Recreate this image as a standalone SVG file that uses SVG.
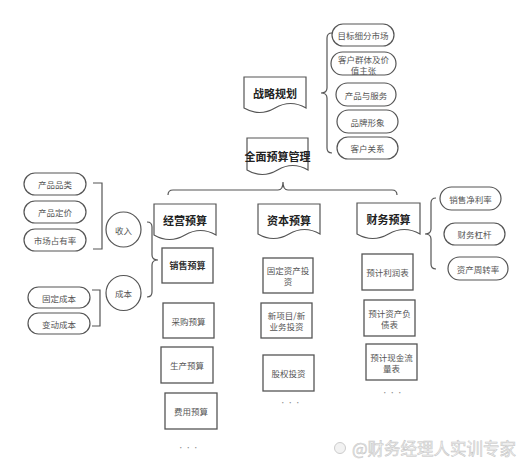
<svg xmlns="http://www.w3.org/2000/svg" width="526" height="469" viewBox="0 0 526 469">
<style>
.pill{fill:#fff;stroke:#555;stroke-width:1.2}
.box{fill:#fff;stroke:#555;stroke-width:1.3}
.doc{fill:#fff;stroke:#555;stroke-width:1.2}
.con{fill:none;stroke:#555;stroke-width:1.2}
text{font-family:"Noto Sans CJK SC","Liberation Sans",sans-serif;text-anchor:middle;dominant-baseline:central}
.t{font-size:8.5px;fill:#555}
.b{font-size:11px;font-weight:bold;fill:#222}
.sb{font-size:9px;font-weight:bold;fill:#333}
.dots{font-size:6px;fill:#888;letter-spacing:1.5px}
</style>
<rect width="526" height="469" fill="#fff"/>
<g id="connectors">
<path class="con" d="M332,33 Q327,33 327,38 V88 Q327,93 321,93 Q327,93 327,98 V148 Q327,153 332,153"/>
<path class="con" d="M168,195 Q168,190 173,190 H278 Q283,190 283,182 Q283,190 288,190 H392 Q397,190 397,195"/>
<path class="con" d="M93,183 H102 V249 H93"/>
<path class="con" d="M92,290 H100 V326 H92"/>
<path class="con" d="M147,222 Q152,222 152,227 V255 Q152,260 158,260 Q152,260 152,265 V292 Q152,297 147,297"/>
<path class="con" d="M436,198 Q431,198 431,203 V229 Q431,234 425,234 Q431,234 431,239 V264 Q431,269 436,269"/>
</g>
<g id="zhanlue"><path class="doc" d="M244,77 H306 V108 Q290.5,99 275,108 Q259.5,117 244,108 Z"/><text class="b" x="275" y="93">战略规划</text></g>
<g id="quanmian"><path class="doc" d="M247,138 H308 V170 Q292.75,161 277.5,170 Q262.25,179 247,170 Z"/><text class="b" x="277.5" y="156">全面预算管理</text></g>
<g id="p1"><rect class="pill" x="332" y="24" width="62" height="22" rx="11"/><text class="t" x="363" y="35">目标细分市场</text></g>
<g id="p2"><rect class="pill" x="331" y="52" width="65" height="23" rx="11.5"/><text class="t" x="363.5" y="58.5">客户群体及价</text><text class="t" x="363.5" y="69.5">值主张</text></g>
<g id="p3"><rect class="pill" x="336" y="83" width="60" height="23" rx="11.5"/><text class="t" x="366" y="94.5">产品与服务</text></g>
<g id="p4"><rect class="pill" x="337" y="110" width="61" height="23" rx="11.5"/><text class="t" x="367.5" y="121.5">品牌形象</text></g>
<g id="p5"><rect class="pill" x="337" y="137" width="61" height="22" rx="11"/><text class="t" x="367.5" y="148">客户关系</text></g>
<g id="l1"><rect class="pill" x="24" y="173" width="62" height="22" rx="11"/><text class="t" x="55" y="184">产品品类</text></g>
<g id="l2"><rect class="pill" x="24" y="201" width="62" height="22" rx="11"/><text class="t" x="55" y="212">产品定价</text></g>
<g id="l3"><rect class="pill" x="24" y="229" width="62" height="22" rx="11"/><text class="t" x="55" y="240">市场占有率</text></g>
<g id="l4"><rect class="pill" x="28" y="287" width="62" height="21" rx="10.5"/><text class="t" x="59" y="297.5">固定成本</text></g>
<g id="l5"><rect class="pill" x="28" y="313" width="62" height="21" rx="10.5"/><text class="t" x="59" y="323.5">变动成本</text></g>
<g id="shouru"><circle class="pill" cx="123.5" cy="229.5" r="17.5"/><text class="t" x="123.5" y="229.5">收入</text></g>
<g id="chengben"><circle class="pill" cx="123.5" cy="293" r="17.5"/><text class="t" x="123.5" y="293">成本</text></g>
<g id="jingying"><path class="doc" d="M154,204 H216 V235 Q200.5,226 185,235 Q169.5,244 154,235 Z"/><text class="b" x="185" y="220">经营预算</text></g>
<g id="ziben"><path class="doc" d="M258,204 H320 V234 Q304.5,225 289,234 Q273.5,243 258,234 Z"/><text class="b" x="289" y="220">资本预算</text></g>
<g id="caiwu"><path class="doc" d="M357,203 H420 V234 Q404.25,225 388.5,234 Q372.75,243 357,234 Z"/><text class="b" x="388.5" y="219">财务预算</text></g>
<g id="r1"><rect class="pill" x="440" y="187" width="61" height="23" rx="11.5"/><text class="t" x="470.5" y="198.5">销售净利率</text></g>
<g id="r2"><rect class="pill" x="444" y="223" width="61" height="22" rx="11"/><text class="t" x="474.5" y="234">财务杠杆</text></g>
<g id="r3"><rect class="pill" x="448" y="257" width="60" height="23" rx="11.5"/><text class="t" x="478" y="268.5">资产周转率</text></g>
<g id="xiaoshou"><rect class="box" x="162" y="248" width="51" height="35"/><text class="sb" x="187.5" y="265.5">销售预算</text></g>
<g id="caigou"><rect class="box" x="163" y="303" width="51" height="35"/><text class="t" x="188.5" y="320.5">采购预算</text></g>
<g id="shengchan"><rect class="box" x="161" y="347" width="52" height="36"/><text class="t" x="187" y="365">生产预算</text></g>
<g id="feiyong"><rect class="box" x="165" y="393" width="52" height="36"/><text class="t" x="191" y="411">费用预算</text></g>
<g id="d1"><text class="dots" x="189" y="447">•••</text></g>
<g id="guding"><rect class="box" x="263" y="258" width="50" height="35"/><text class="t" x="288" y="270">固定资产投</text><text class="t" x="288" y="281">资</text></g>
<g id="xinxiangmu"><rect class="box" x="261" y="303" width="51" height="35"/><text class="t" x="286.5" y="315">新项目/新</text><text class="t" x="286.5" y="326">业务投资</text></g>
<g id="guquan"><rect class="box" x="263" y="355" width="51" height="36"/><text class="t" x="288.5" y="373">股权投资</text></g>
<g id="d2"><text class="dots" x="291" y="402">•••</text></g>
<g id="lirun"><rect class="box" x="362" y="254" width="51" height="36"/><text class="t" x="387.5" y="272">预计利润表</text></g>
<g id="fuzhai"><rect class="box" x="364" y="300" width="51" height="36"/><text class="t" x="389.5" y="312.5">预计资产负</text><text class="t" x="389.5" y="323.5">债表</text></g>
<g id="xianjin"><rect class="box" x="366" y="344" width="51" height="36"/><text class="t" x="391.5" y="356.5">预计现金流</text><text class="t" x="391.5" y="367.5">量表</text></g>
<g id="d3"><text class="dots" x="393" y="392">•••</text></g>
<g id="watermark">
<circle cx="340" cy="448" r="5.5" fill="#f2f2f2" stroke="#ccc" stroke-width="1"/>
<text x="434" y="448" style="font-size:16.5px;fill:#f0f0f0;stroke:#c4c4c4;stroke-width:0.5">@财务经理人实训专家</text>
</g>
</svg>
